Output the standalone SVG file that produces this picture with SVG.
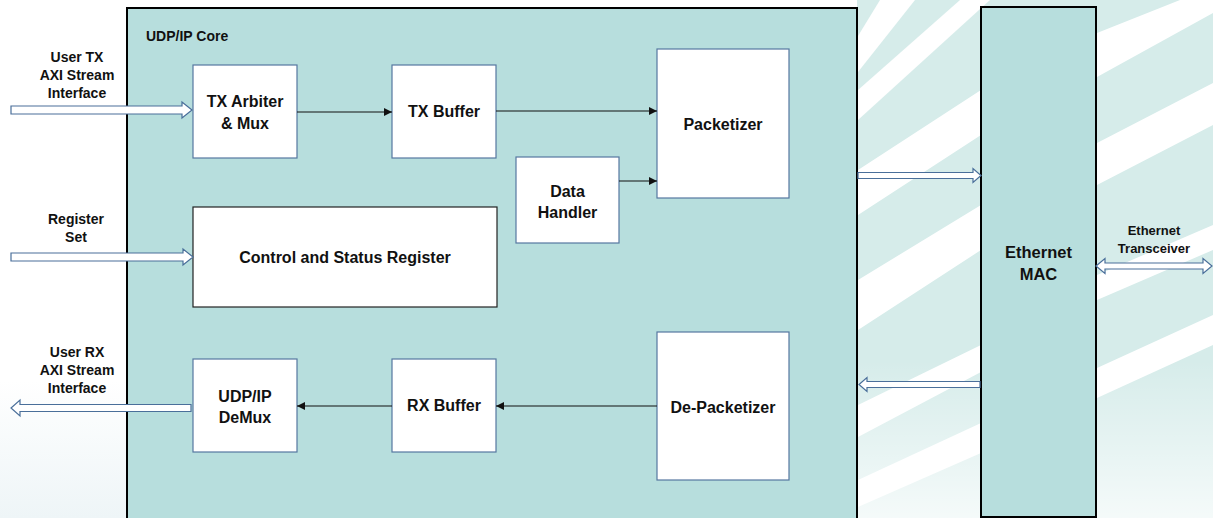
<svg xmlns="http://www.w3.org/2000/svg" width="1213" height="518" viewBox="0 0 1213 518">
  <defs>
    <style>
      .lbl { font-family: "Liberation Sans", Arial, sans-serif; font-weight: bold; fill: #111; text-anchor: middle; }
      .side { font-size: 14px; }
      .small { font-size: 13px; }
      .box { font-size: 16px; }
      .blk { fill: #ffffff; stroke: #4a6f9a; stroke-width: 1.2; }
      .conn { stroke: #111; stroke-width: 1.2; fill: none; }
      .node { fill: #ffffff; stroke: #5677a0; stroke-width: 1.2; }
      .stripe { fill: #ffffff; }
    </style>
    <marker id="ah" viewBox="0 0 10 10" refX="10" refY="5" markerWidth="9" markerHeight="8" markerUnits="userSpaceOnUse" orient="auto">
      <path d="M0,0 L10,5 L0,10 Z" fill="#111"/>
    </marker>
    <linearGradient id="fade" x1="0" y1="0" x2="0" y2="1">
      <stop offset="0" stop-color="#ffffff" stop-opacity="0"/>
      <stop offset="1" stop-color="#ffffff" stop-opacity="0.75"/>
    </linearGradient>
    <linearGradient id="leftfade" x1="0" y1="0" x2="0" y2="1">
      <stop offset="0" stop-color="#ffffff"/>
      <stop offset="1" stop-color="#eef5f7"/>
    </linearGradient>
  </defs>

  <!-- background -->
  <g id="background">
    <rect x="0" y="0" width="1213" height="518" fill="#ffffff"/>
    <rect x="0" y="380" width="127" height="138" fill="url(#leftfade)"/>
    <rect x="857" y="0" width="356" height="518" fill="#d6ecea"/>
    <polygon class="stripe" points="880,0 915,0 858,72 858,36"/>
    <polygon class="stripe" points="960,0 990,0 858,120 858,90"/>
    <polygon class="stripe" points="1180,0 1213,0 1213,13 1097,77 981,135 858,215 858,170 981,90 1097,33"/>
    <polygon class="stripe" points="1213,83 1213,125 1097,185 981,250 858,330 858,280 981,205 1097,143"/>
    <polygon class="stripe" points="1213,225 1213,250 1097,300 981,372 858,437 858,405 981,345 1097,275"/>
    <polygon class="stripe" points="1213,315 1213,345 1097,398 981,453 858,507 858,480 981,423 1097,368"/>
    <rect x="857" y="360" width="356" height="158" fill="url(#fade)"/>
  </g>

  <!-- UDP/IP Core container -->
  <g id="udp-ip-core">
    <rect x="127" y="8" width="730" height="520" fill="#b7dedd" stroke="#000" stroke-width="2"/>
    <text class="lbl" x="146" y="41" font-size="14" style="text-anchor:start">UDP/IP Core</text>
  </g>

  <!-- Ethernet MAC -->
  <g id="ethernet-mac">
    <rect x="981" y="7" width="115" height="510" fill="#b7dedd" stroke="#000" stroke-width="2"/>
    <text class="lbl box" x="1038.5" y="258" style="font-size:16.5px">Ethernet</text>
    <text class="lbl box" x="1038.5" y="280" style="font-size:16.5px">MAC</text>
  </g>

  <g id="tx-arbiter">
    <rect class="node" x="193" y="65" width="104" height="93"/>
    <text class="lbl box" x="245" y="107">TX Arbiter</text>
    <text class="lbl box" x="245" y="129">&amp; Mux</text>
  </g>

  <g id="tx-buffer">
    <rect class="node" x="392" y="65" width="104" height="93"/>
    <text class="lbl box" x="444" y="117">TX Buffer</text>
  </g>

  <g id="packetizer">
    <rect class="node" x="657" y="49" width="132" height="149"/>
    <text class="lbl box" x="723" y="130">Packetizer</text>
  </g>

  <g id="data-handler">
    <rect class="node" x="516" y="157" width="103" height="86"/>
    <text class="lbl box" x="567.5" y="197">Data</text>
    <text class="lbl box" x="567.5" y="218">Handler</text>
  </g>

  <g id="csr">
    <rect x="193" y="207" width="304" height="100" fill="#ffffff" stroke="#222" stroke-width="1.2"/>
    <text class="lbl box" x="345" y="263">Control and Status Register</text>
  </g>

  <g id="udp-ip-demux">
    <rect class="node" x="193" y="359" width="104" height="93"/>
    <text class="lbl box" x="245" y="402">UDP/IP</text>
    <text class="lbl box" x="245" y="423">DeMux</text>
  </g>

  <g id="rx-buffer">
    <rect class="node" x="392" y="359" width="104" height="93"/>
    <text class="lbl box" x="444" y="411">RX Buffer</text>
  </g>

  <g id="de-packetizer">
    <rect class="node" x="657" y="332" width="132" height="148"/>
    <text class="lbl box" x="723" y="413">De-Packetizer</text>
  </g>

  <!-- external labels -->
  <g id="user-tx-label">
    <text class="lbl side" x="77" y="62">User TX</text>
    <text class="lbl side" x="77" y="80">AXI Stream</text>
    <text class="lbl side" x="77" y="98">Interface</text>
  </g>
  <g id="register-set-label">
    <text class="lbl side" x="76" y="224">Register</text>
    <text class="lbl side" x="76" y="242">Set</text>
  </g>
  <g id="user-rx-label">
    <text class="lbl side" x="77" y="357">User RX</text>
    <text class="lbl side" x="77" y="375">AXI Stream</text>
    <text class="lbl side" x="77" y="393">Interface</text>
  </g>
  <g id="transceiver-label">
    <text class="lbl small" x="1154" y="235">Ethernet</text>
    <text class="lbl small" x="1154" y="253">Transceiver</text>
  </g>

  <!-- connectors -->
  <g id="connectors">
    <line class="conn" x1="297" y1="112" x2="392" y2="112" marker-end="url(#ah)"/>
    <line class="conn" x1="496" y1="111" x2="657" y2="111" marker-end="url(#ah)"/>
    <line class="conn" x1="619" y1="181" x2="657" y2="181" marker-end="url(#ah)"/>
    <line class="conn" x1="657" y1="406" x2="496" y2="406" marker-end="url(#ah)"/>
    <line class="conn" x1="392" y1="406" x2="297" y2="406" marker-end="url(#ah)"/>

    <!-- block arrows -->
    <path class="blk" d="M11,106 H182 V102 L192,110 L182,118 V114 H11 Z"/>
    <path class="blk" d="M11,253 H183 V249 L193,257 L183,265 V261 H11 Z"/>
    <path class="blk" d="M191,404.5 H20 V400 L11,408 L20,416 V411.5 H191 Z"/>
    <path class="blk" d="M858,172.5 H973 V168.5 L981,175.5 L973,182.5 V178.5 H858 Z"/>
    <path class="blk" d="M980,381.5 H867 V377.5 L859,384.5 L867,391.5 V387.5 H980 Z"/>
    <path class="blk" d="M1096,266 L1105,258.5 V263 H1203 V258.5 L1212,266 L1203,273.5 V269 H1105 V273.5 Z"/>
  </g>
</svg>
